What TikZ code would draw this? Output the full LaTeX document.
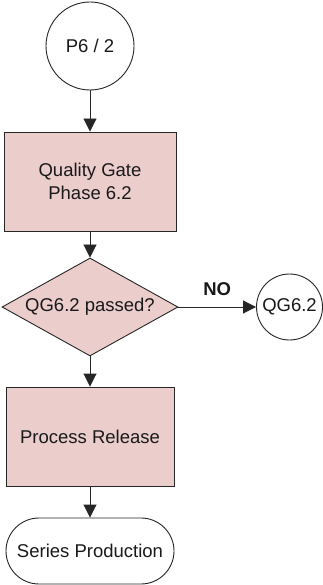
\documentclass[tikz,border=0pt]{standalone}
\usepackage{fontspec}
\setmainfont{Liberation Sans}
\usetikzlibrary{shapes.geometric,arrows.meta}
\definecolor{gatefill}{HTML}{EBCDCC}
\begin{document}
\begin{tikzpicture}[x=1pt,y=-1pt,
  every node/.style={font=\fontsize{18.5}{23}\selectfont, text=black!90, line width=0.9pt, draw=black!85, inner sep=0pt},
  terminal/.style={circle, fill=white},
  stepbox/.style={rectangle, fill=gatefill, minimum width=172pt, minimum height=99pt, align=center},
  decision/.style={diamond, fill=gatefill, aspect=1.8, minimum width=176pt, minimum height=98pt},
  stadium/.style={rectangle, rounded corners=33pt, fill=white, minimum width=168pt, minimum height=66pt},
  flow/.style={line width=0.9pt, draw=black!85, -{Triangle[length=13pt,width=13pt]}}]
  \useasboundingbox (0,0) rectangle (323,585);

  \node[terminal, minimum size=88pt] (p6) at (90,46) {P6 / 2};
  \node[stepbox] (gate) at (90,181.5) {Quality Gate\\Phase 6.2};
  \node[decision] (dec) at (90,307) {QG6.2 passed?};
  \node[terminal, minimum size=66pt] (qg) at (289.5,307) {QG6.2};
  \node[stepbox, minimum width=168pt] (rel) at (90,436.5) {Process Release};
  \node[stadium] (sp) at (90,551) {Series Production};

  \draw[flow] (p6) -- (gate);
  \draw[flow] (gate) -- (dec);
  \draw[flow] (dec.east) -- node[draw=none, font=\bfseries\fontsize{18.5}{23}\selectfont, yshift=18pt] {NO} (qg);
  \draw[flow] (dec) -- (rel);
  \draw[flow] (rel) -- (sp);
\end{tikzpicture}
\end{document}
